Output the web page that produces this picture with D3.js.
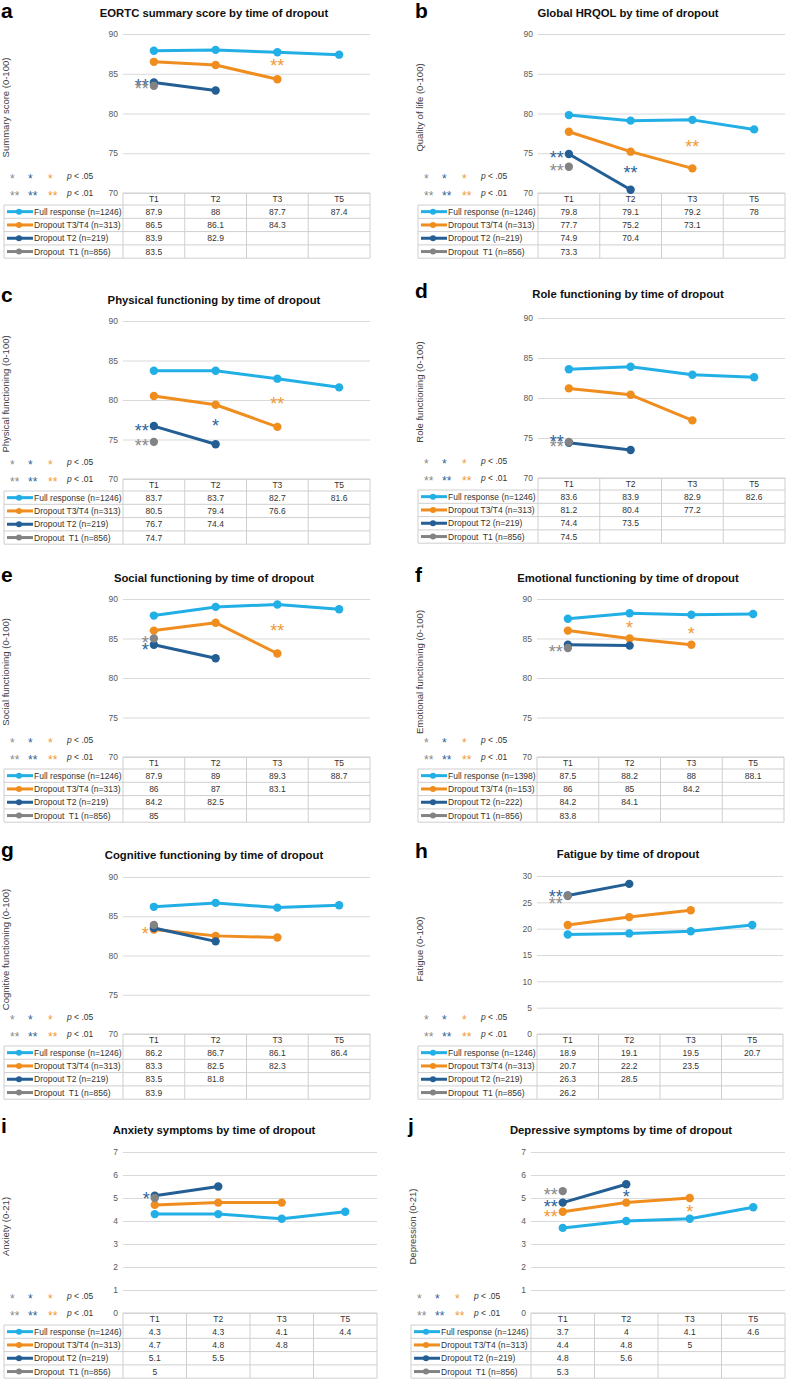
<!DOCTYPE html>
<html><head><meta charset="utf-8">
<script src="https://cdn.jsdelivr.net/npm/d3@7"></script>
<style>
body{margin:0;background:#fff;}
svg{display:block;font-family:"Liberation Sans",Arial,sans-serif;}
text{white-space:pre;}
</style>
</head><body>
<svg id="c" width="786" height="1382"></svg>
<script>
// ---------------- DATA ----------------
const categories = ["T1", "T2", "T3", "T5"];
const seriesNames = ["Full response", "Dropout T3/T4", "Dropout T2", "Dropout  T1"];
const seriesNamesF = ["Full response", "Dropout T3/T4", "Dropout T2", "Dropout T1"];
const seriesColors = ["#22afe6", "#f08d1f", "#235e94", "#838383"];

const panelLetters = ["a", "b", "c", "d", "e", "f", "g", "h", "i", "j"];
const panelTitles = [
  "EORTC summary score by time of dropout",
  "Global HRQOL by time of dropout",
  "Physical functioning by time of dropout",
  "Role functioning by time of dropout",
  "Social functioning by time of dropout",
  "Emotional functioning by time of dropout",
  "Cognitive functioning by time of dropout",
  "Fatigue by time of dropout",
  "Anxiety symptoms by time of dropout",
  "Depressive symptoms by time of dropout"
];
const yAxisLabels = [
  "Summary score (0-100)", "Quality of life (0-100)", "Physical functioning (0-100)",
  "Role functioning (0-100)", "Social functioning (0-100)", "Emotional functioning (0-100)",
  "Cognitive functioning (0-100)", "Fatigue (0-100)", "Anxiety (0-21)", "Depression (0-21)"
];
const ticks70to90 = [70, 75, 80, 85, 90];
const ticks0to30 = [0, 5, 10, 15, 20, 25, 30];
const ticks0to7 = [0, 1, 2, 3, 4, 5, 6, 7];
const panelTicks = [ticks70to90, ticks70to90, ticks70to90, ticks70to90, ticks70to90,
  ticks70to90, ticks70to90, ticks0to30, ticks0to7, ticks0to7];

const sampleSizesDefault = ["1246", "313", "219", "856"];
const sampleSizesEmotional = ["1398", "153", "222", "856"];

const fullResponse = [
  [87.9, 88, 87.7, 87.4], [79.8, 79.1, 79.2, 78], [83.7, 83.7, 82.7, 81.6],
  [83.6, 83.9, 82.9, 82.6], [87.9, 89, 89.3, 88.7], [87.5, 88.2, 88, 88.1],
  [86.2, 86.7, 86.1, 86.4], [18.9, 19.1, 19.5, 20.7], [4.3, 4.3, 4.1, 4.4], [3.7, 4, 4.1, 4.6]
];
const dropoutT3T4 = [
  [86.5, 86.1, 84.3], [77.7, 75.2, 73.1], [80.5, 79.4, 76.6], [81.2, 80.4, 77.2],
  [86, 87, 83.1], [86, 85, 84.2], [83.3, 82.5, 82.3], [20.7, 22.2, 23.5], [4.7, 4.8, 4.8], [4.4, 4.8, 5]
];
const dropoutT2 = [
  [83.9, 82.9], [74.9, 70.4], [76.7, 74.4], [74.4, 73.5], [84.2, 82.5],
  [84.2, 84.1], [83.5, 81.8], [26.3, 28.5], [5.1, 5.5], [4.8, 5.6]
];
const dropoutT1 = [[83.5], [73.3], [74.7], [74.5], [85], [83.8], [83.9], [26.2], [5], [5.3]];

// significance marks: [panel, series, category index, value position, stars, placement]
const sigMarks = [
  [0, 2, 0, 83.96, "**", "L"], [0, 3, 0, 83.6, "**", "L"], [0, 1, 2, 86.5, "**", "C"],
  [1, 2, 0, 75.0, "**", "L"], [1, 3, 0, 73.3, "**", "L"], [1, 2, 1, 73.1, "**", "C"], [1, 1, 2, 76.4, "**", "C"],
  [2, 2, 0, 76.7, "**", "L"], [2, 3, 0, 74.75, "**", "L"], [2, 2, 1, 77.27, "*", "C"], [2, 1, 2, 80.0, "**", "C"],
  [3, 2, 0, 75.0, "**", "L"], [3, 3, 0, 74.45, "**", "L"],
  [4, 3, 0, 85.04, "*", "L"], [4, 2, 0, 84.1, "*", "L"], [4, 1, 2, 86.5, "**", "C"],
  [5, 3, 0, 83.9, "**", "L"], [5, 1, 1, 86.86, "*", "C"], [5, 1, 2, 86.1, "*", "C"],
  [6, 1, 0, 83.3, "*", "L"],
  [7, 2, 0, 26.9, "**", "L"], [7, 3, 0, 25.6, "**", "L"],
  [8, 2, 0, 5.14, "*", "L"],
  [9, 3, 0, 5.33, "**", "L"], [9, 2, 0, 4.81, "**", "L"], [9, 1, 0, 4.38, "**", "L"],
  [9, 2, 1, 5.22, "*", "C"], [9, 1, 2, 4.57, "*", "C"]
];
const legendSingle = "*", legendDouble = "**";
const legendP05 = ".05", legendP01 = ".01";

// ---------------- LAYOUT ----------------
const layout = {
  tableLeft: [4, 418, 4, 418, 4, 418, 4, 418, 4, 411],
  plotLeft: [123, 538, 123, 538, 123, 537, 123, 537, 123, 531],
  plotRight: [370, 785, 370, 785, 370, 784, 370, 783, 377, 785],
  plotTop: [34, 34, 321, 318, 599, 599, 877, 876, 1152, 1152],
  plotBottom: [193, 193, 479, 478, 757, 757, 1034, 1034, 1313, 1313],
  titleY: [13, 13, 300, 294, 578, 578, 855, 854, 1130, 1130],
  letterY: [18, 18, 302, 298, 582, 582, 857, 858, 1133, 1133]
};
const headerH = 12, rowH = 13.3;
const gridColor = "#d9d9d9", borderColor = "#cfcfcf";
const sigColors = ["#8a8a8a", "#2c639b", "#f09a35"];

const svg = d3.select("#c");

panelLetters.forEach((letter, p) => {
  const g = svg.append("g");
  const tl = layout.tableLeft[p], pl = layout.plotLeft[p], pr = layout.plotRight[p];
  const pt = layout.plotTop[p], pb = layout.plotBottom[p];
  const ticks = panelTicks[p];
  const x = d3.scaleBand().domain(categories).range([pl, pr]).padding(0);
  const bw = x.bandwidth();
  const cx = c => x(c) + bw / 2;
  const y = d3.scaleLinear().domain(d3.extent(ticks)).range([pb, pt]);

  // panel letter
  g.append("text").attr("x", tl - 3).attr("y", layout.letterY[p])
    .attr("font-size", 21).attr("font-weight", "bold").attr("fill", "#000").text(letter);
  // title
  g.append("text").attr("x", tl + 210).attr("y", layout.titleY[p] + 4)
    .attr("text-anchor", "middle").attr("font-size", 11.3).attr("font-weight", "bold")
    .attr("fill", "#111").text(panelTitles[p]);
  // y axis title
  const ym = (pt + pb) / 2 - 6;
  g.append("text").attr("transform", `translate(${tl + 5},${ym}) rotate(-90)`)
    .attr("text-anchor", "middle").attr("font-size", 9.5).attr("fill", "#404040")
    .text(yAxisLabels[p]);

  // grid + ticks
  const ax = g.append("g").attr("transform", `translate(${pl},0)`)
    .call(d3.axisLeft(y).tickValues(ticks).tickSize(-(pr - pl)).tickPadding(5).tickFormat(d3.format("d")));
  ax.select(".domain").remove();
  ax.selectAll(".tick line").attr("stroke", gridColor).attr("stroke-width", 1);
  ax.selectAll(".tick text").attr("font-size", 8.5).attr("fill", "#595959")
    .attr("font-family", "Liberation Sans, Arial, sans-serif");

  // table
  const tg = g.append("g");
  const rowsTop = pb + headerH;
  const tableBottom = rowsTop + 4 * rowH;
  const line = (x1, y1, x2, y2) => tg.append("line").attr("x1", x1).attr("y1", y1)
    .attr("x2", x2).attr("y2", y2).attr("stroke", borderColor).attr("stroke-width", 1);
  line(pl, pb, pr, pb);
  for (let r = 0; r <= 4; r++) line(tl, rowsTop + r * rowH, pr, rowsTop + r * rowH);
  line(tl, rowsTop, tl, tableBottom);
  categories.forEach(c => line(x(c), pb, x(c), tableBottom));
  line(pr, pb, pr, tableBottom);

  categories.forEach(c => {
    tg.append("text").attr("x", cx(c)).attr("y", pb + headerH / 2 + 3)
      .attr("text-anchor", "middle").attr("font-size", 8.5).attr("fill", "#333").text(c);
  });

  const allSeries = [fullResponse[p], dropoutT3T4[p], dropoutT2[p], dropoutT1[p]];
  const sizes = p === 5 ? sampleSizesEmotional : sampleSizesDefault;
  const names = p === 5 ? seriesNamesF : seriesNames;
  allSeries.forEach((vals, s) => {
    const ry = rowsTop + s * rowH + rowH / 2;
    tg.append("line").attr("x1", tl + 3).attr("x2", tl + 29).attr("y1", ry).attr("y2", ry)
      .attr("stroke", seriesColors[s]).attr("stroke-width", 3);
    tg.append("circle").attr("cx", tl + 15).attr("cy", ry).attr("r", 3).attr("fill", seriesColors[s]);
    tg.append("text").attr("x", tl + 30).attr("y", ry + 3).attr("font-size", 8.5).attr("fill", "#333")
      .text(`${names[s]} (n=${sizes[s]})`);
    vals.forEach((v, i) => {
      tg.append("text").attr("x", cx(categories[i])).attr("y", ry + 3).attr("text-anchor", "middle")
        .attr("font-size", 8.5).attr("fill", "#333").text(String(v));
    });
  });

  // significance legend
  const lg = g.append("g");
  [[legendSingle, legendP05, pb - 17], [legendDouble, legendP01, pb]].forEach(([st, pv, cy]) => {
    [6, 24, 44].forEach((dx, k) => {
      lg.append("text").attr("x", tl + dx).attr("y", cy + 0.58 * 12).attr("font-size", 12)
        .attr("fill", sigColors[k]).text(st);
    });
    const t = lg.append("text").attr("x", tl + 63).attr("y", cy + 3).attr("font-size", 8.5).attr("fill", "#333");
    t.append("tspan").attr("font-style", "italic").text("p");
    t.append("tspan").text(" < " + pv);
  });

  // series lines
  const lineGen = d3.line().x((v, i) => cx(categories[i])).y(v => y(v));
  allSeries.forEach((vals, s) => {
    if (vals.length > 1) {
      g.append("path").attr("d", lineGen(vals)).attr("fill", "none")
        .attr("stroke", seriesColors[s]).attr("stroke-width", 3).attr("stroke-linejoin", "round");
    }
    vals.forEach((v, i) => {
      g.append("circle").attr("cx", cx(categories[i])).attr("cy", y(v)).attr("r", 4.2)
        .attr("fill", seriesColors[s]);
    });
  });

  // significance marks in chart
  sigMarks.filter(m => m[0] === p).forEach(([, s, ci, v, st, place]) => {
    const px = cx(categories[ci]);
    const fs = 18;
    g.append("text").attr("x", place === "L" ? px - 5 : px).attr("y", y(v) + 0.58 * fs)
      .attr("text-anchor", place === "L" ? "end" : "middle").attr("font-size", fs)
      .attr("fill", sigColors[s === 3 ? 0 : s === 2 ? 1 : 2]).text(st);
  });
});
</script>
</body></html>
